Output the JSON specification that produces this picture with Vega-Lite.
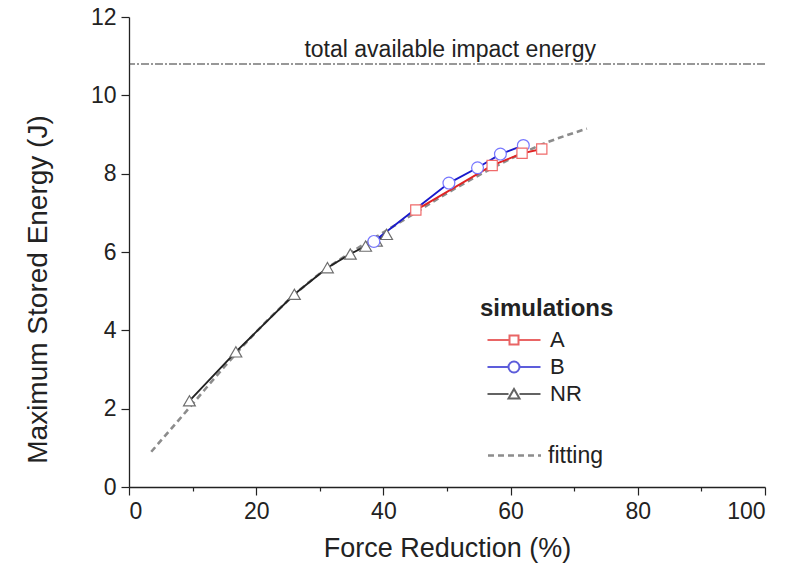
{
  "$schema": "https://vega.github.io/schema/vega-lite/v6.json",
  "width": 636,
  "height": 470,
  "autosize": {"type": "none"},
  "padding": {"left": 129, "top": 17, "right": 20, "bottom": 85},
  "background": "white",
  "config": {
    "font": "Liberation Sans",
    "view": {"stroke": null},
    "axis": {
      "grid": false,
      "domainColor": "#222",
      "domainWidth": 1.3,
      "tickColor": "#222",
      "tickWidth": 1.2,
      "labelFontSize": 23,
      "labelColor": "#222",
      "titleFontSize": 27,
      "titleFontWeight": "normal",
      "titleColor": "#222"
    },
    "legend": {"labelFontSize": 22, "labelColor": "#222", "titleColor": "#222"}
  },
  "datasets": {
    "sim": [
      {"series": "NR", "fr": 9.5, "energy": 2.2},
      {"series": "NR", "fr": 16.8, "energy": 3.45},
      {"series": "NR", "fr": 26.0, "energy": 4.92},
      {"series": "NR", "fr": 31.2, "energy": 5.6},
      {"series": "NR", "fr": 34.8, "energy": 5.95},
      {"series": "NR", "fr": 37.2, "energy": 6.15},
      {"series": "NR", "fr": 38.9, "energy": 6.28},
      {"series": "NR", "fr": 40.5, "energy": 6.45},
      {"series": "B", "fr": 38.5, "energy": 6.27},
      {"series": "B", "fr": 50.3, "energy": 7.76},
      {"series": "B", "fr": 54.8, "energy": 8.15},
      {"series": "B", "fr": 58.4, "energy": 8.5},
      {"series": "B", "fr": 62.0, "energy": 8.72},
      {"series": "A", "fr": 45.1, "energy": 7.07},
      {"series": "A", "fr": 57.1, "energy": 8.21},
      {"series": "A", "fr": 61.8, "energy": 8.52},
      {"series": "A", "fr": 64.9, "energy": 8.63}
    ],
    "fit": [
      {"kind": "fitting", "fr": 3.5, "energy": 0.9},
      {"kind": "fitting", "fr": 10, "energy": 2.12},
      {"kind": "fitting", "fr": 15, "energy": 3.07},
      {"kind": "fitting", "fr": 20, "energy": 3.96},
      {"kind": "fitting", "fr": 25, "energy": 4.76},
      {"kind": "fitting", "fr": 30, "energy": 5.45},
      {"kind": "fitting", "fr": 35, "energy": 6.0},
      {"kind": "fitting", "fr": 40, "energy": 6.5},
      {"kind": "fitting", "fr": 45, "energy": 7.0},
      {"kind": "fitting", "fr": 50, "energy": 7.5},
      {"kind": "fitting", "fr": 55, "energy": 7.96},
      {"kind": "fitting", "fr": 60, "energy": 8.38},
      {"kind": "fitting", "fr": 65, "energy": 8.75},
      {"kind": "fitting", "fr": 72, "energy": 9.15}
    ],
    "ref": [
      {"energy": 10.8, "label": "total available impact energy"}
    ]
  },
  "layer": [
    {
      "data": {"name": "ref"},
      "mark": {"type": "rule", "color": "#333", "strokeWidth": 1.1, "strokeDash": [8, 2, 2, 2]},
      "encoding": {
        "y": {
          "field": "energy",
          "type": "quantitative",
          "scale": {"domain": [0, 12], "nice": false},
          "axis": {
            "title": "Maximum Stored Energy (J)",
            "values": [0, 1, 2, 3, 4, 5, 6, 7, 8, 9, 10, 11, 12],
            "labelExpr": "datum.value % 2 === 0 ? datum.label : ''",
            "tickSize": {"condition": {"test": "datum.value % 2 === 0", "value": 8}, "value": 4},
            "labelPadding": 5,
            "titleFontSize": 28,
            "titleX": -77,
            "titleY": 272
          }
        }
      }
    },
    {
      "data": {"name": "ref"},
      "mark": {"type": "text", "fontSize": 23, "fill": "#222", "dy": -7, "align": "center", "baseline": "alphabetic"},
      "encoding": {
        "x": {"datum": 50.5, "type": "quantitative"},
        "y": {"field": "energy", "type": "quantitative"},
        "text": {"field": "label", "type": "nominal"}
      }
    },
    {
      "data": {"name": "fit"},
      "mark": {"type": "line", "color": "#8c8c8c", "strokeWidth": 2.6, "interpolate": "monotone"},
      "encoding": {
        "x": {
          "field": "fr",
          "type": "quantitative",
          "scale": {"domain": [0, 100], "nice": false},
          "axis": {
            "title": "Force Reduction (%)",
            "values": [0, 10, 20, 30, 40, 50, 60, 70, 80, 90, 100],
            "labelExpr": "datum.value % 20 === 0 ? datum.label : ''",
            "tickSize": {"condition": {"test": "datum.value % 20 === 0", "value": 8}, "value": 4},
            "labelPadding": 5,
            "titlePadding": 12
          }
        },
        "y": {"field": "energy", "type": "quantitative"},
        "strokeDash": {
          "field": "kind",
          "type": "nominal",
          "scale": {"domain": ["fitting"], "range": [[6, 4]]},
          "legend": {
            "orient": "none",
            "legendX": 351,
            "legendY": 427,
            "title": null,
            "labelFontSize": 23,
            "symbolType": "M-2.65,0H2.65",
            "symbolSize": 400,
            "symbolStrokeWidth": 2.6,
            "symbolStrokeColor": "#8c8c8c",
            "symbolOffset": 23,
            "labelOffset": 22
          }
        }
      }
    },
    {
      "data": {"name": "sim"},
      "mark": {"type": "line", "strokeWidth": 1.9},
      "encoding": {
        "x": {"field": "fr", "type": "quantitative"},
        "y": {"field": "energy", "type": "quantitative"},
        "color": {
          "field": "series",
          "type": "nominal",
          "scale": {"domain": ["A", "B", "NR"], "range": ["#e02424", "#1a1acc", "#222222"]}
        },
        "order": {"field": "fr", "type": "quantitative"}
      }
    },
    {
      "data": {"name": "sim"},
      "mark": {"type": "point", "filled": false, "fill": "white", "fillOpacity": 1, "strokeWidth": 1.2, "opacity": 1},
      "encoding": {
        "x": {"field": "fr", "type": "quantitative"},
        "y": {"field": "energy", "type": "quantitative"},
        "shape": {
          "condition": [
            {"test": "datum.series === 'A'", "value": "square"},
            {"test": "datum.series === 'B'", "value": "circle"}
          ],
          "value": "triangle-up"
        },
        "size": {
          "condition": [
            {"test": "datum.series === 'A'", "value": 105},
            {"test": "datum.series === 'B'", "value": 140}
          ],
          "value": 140
        },
        "stroke": {
          "field": "series",
          "type": "nominal",
          "scale": {"domain": ["A", "B", "NR"], "range": ["#f06a6a", "#7777ff", "#6e6e6e"]},
          "legend": null
        }
      }
    },
    {
      "data": {"name": "sim"},
      "transform": [{"filter": "false"}],
      "mark": {"type": "point", "filled": false, "fill": "white", "strokeWidth": 2},
      "encoding": {
        "x": {"field": "fr", "type": "quantitative"},
        "y": {"field": "energy", "type": "quantitative"},
        "color": {
          "field": "series",
          "type": "nominal",
          "legend": {
            "orient": "none",
            "legendX": 351,
            "legendY": 280,
            "title": "simulations",
            "titleFontSize": 24,
            "titleFontWeight": "bold",
            "titlePadding": 8,
            "symbolSize": 400,
            "symbolStrokeWidth": 2,
            "symbolOffset": 23,
            "labelOffset": 25,
            "rowPadding": 5,
            "symbolFillColor": "white"
          }
        },
        "shape": {
          "field": "series",
          "type": "nominal",
          "scale": {
            "domain": ["A", "B", "NR"],
            "range": [
              "M-2.65,0H-0.45M0.45,0H2.65M-0.45,-0.45H0.45V0.45H-0.45Z",
              "M-2.65,0H-0.55M0.55,0H2.65M0.55,0A0.55,0.55,0,1,1,-0.55,0A0.55,0.55,0,1,1,0.55,0Z",
              "M-2.65,0H-0.55M0.55,0H2.65M-0.55,0.45L0,-0.5L0.55,0.45Z"
            ]
          }
        }
      }
    }
  ]
}
